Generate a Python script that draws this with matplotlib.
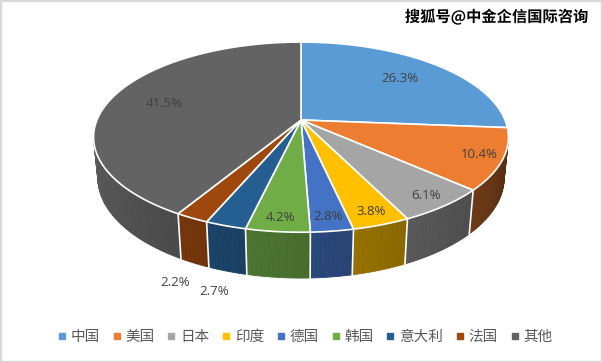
import numpy as np
import matplotlib
matplotlib.use("Agg")
import matplotlib.pyplot as plt
from matplotlib.patches import Polygon, Rectangle
from matplotlib.lines import Line2D
from matplotlib.font_manager import FontProperties
from matplotlib.colors import to_rgb
import matplotlib.patheffects as pe

countries = ["中国", "美国", "日本", "印度", "德国", "韩国", "意大利", "法国", "其他"]
shares = [26.3, 10.4, 6.1, 3.8, 2.8, 4.2, 2.7, 2.2, 41.5]
colors = ["#5B9BD5", "#ED7D31", "#A5A5A5", "#FFC000", "#4472C4",
          "#70AD47", "#255E91", "#9E480E", "#636363"]

# camera for the tilted 3d pie (pixel space)
ELEV = np.radians(26.8)
DIST = 4.95
FOCAL = 1010
THICK = 0.224
CX, CY = 301, 120

cam = np.array([0, -DIST * np.cos(ELEV), DIST * np.sin(ELEV)])
fwd = np.array([0, np.cos(ELEV), -np.sin(ELEV)])
upv = np.array([0, np.sin(ELEV), np.cos(ELEV)])


def proj(phi, r=1.0, z=0.0):
    phi = np.atleast_1d(np.asarray(phi, dtype=float))
    p = np.stack([r * np.sin(phi), r * np.cos(phi), np.full_like(phi, z)], axis=1)
    v = p - cam
    d = v @ fwd
    return np.column_stack([CX + FOCAL * v[:, 0] / d, CY - FOCAL * (v @ upv) / d])


def shade(phi):
    f = 0.38 + (np.degrees(phi) - 110) * 0.0036
    return float(np.clip(f, 0.36, 0.9))


fig = plt.figure(figsize=(6.02, 3.62), dpi=100)
ax = fig.add_axes([0, 0, 1, 1])
ax.set_xlim(0, 602)
ax.set_ylim(362, 0)
ax.axis("off")

edges = np.radians(np.concatenate([[0], np.cumsum(shares)]) * 3.6)
vis_lo = np.arccos(-1 / (DIST * np.cos(ELEV)))
vis_hi = 2 * np.pi - vis_lo

# side walls
for i, c in enumerate(colors):
    a0 = max(edges[i], vis_lo)
    a1 = min(edges[i + 1], vis_hi)
    if a1 <= a0:
        continue
    n = max(2, int(np.degrees(a1 - a0)))
    ts = np.linspace(a0, a1, n + 1)
    base = np.array(to_rgb(c))
    for t0, t1 in zip(ts[:-1], ts[1:]):
        top = proj([t0, t1])
        bot = proj([t1, t0], z=-THICK)
        col = base * shade((t0 + t1) / 2)
        ax.add_patch(Polygon(np.vstack([top, bot]), closed=True,
                             fc=col, ec=col, lw=0.6, zorder=1))

for a in edges[1:-1]:
    if vis_lo < a < vis_hi:
        seg = np.vstack([proj(a), proj(a, z=-THICK)])
        ax.plot(seg[:, 0], seg[:, 1], color="white", lw=1.2, zorder=2)

# top faces
for i, c in enumerate(colors):
    ts = np.linspace(edges[i], edges[i + 1], max(3, int(shares[i] * 4)))
    pts = np.vstack([proj(0, r=0), proj(ts)])
    ax.add_patch(Polygon(pts, closed=True, fc=c, ec="white", lw=1.2,
                         joinstyle="round", zorder=3))

# data labels
for i, v in enumerate(shares):
    mid = (edges[i] + edges[i + 1]) / 2
    if v < 2.75:
        x, y = proj(mid, r=1.15, z=-THICK)[0]
    else:
        r = 0.72 if v > 20 else 0.89
        x, y = proj(mid, r=r)[0]
    ax.text(x, y, "{:.1f}%".format(v), ha="center", va="center",
            fontsize=9.5, family="Open Sans", color="#404040", zorder=4)

handles = [Line2D([], [], marker="s", ls="", color=c, markersize=4.5) for c in colors]
ax.legend(handles, countries, loc="center", bbox_to_anchor=(305 / 602, 1 - 337 / 362),
          ncol=9, frameon=False, handlelength=0.6, handletextpad=0.3,
          columnspacing=0.85, labelcolor="#595959",
          prop=FontProperties(family="Noto Sans CJK SC", size=10.5))

ax.text(588, 17, "搜狐号@中金企信国际咨询", ha="right", va="center",
        fontsize=11, fontweight="bold", family=["Noto Sans CJK SC", "DejaVu Sans"],
        color="black", zorder=5,
        path_effects=[pe.withStroke(linewidth=2.5, foreground="white")])

fig.patches.append(Rectangle((0, 0), 1, 1, transform=fig.transFigure,
                             fill=False, ec="#D9D9D9", lw=2.5))

fig.savefig("out.png", dpi=100)
